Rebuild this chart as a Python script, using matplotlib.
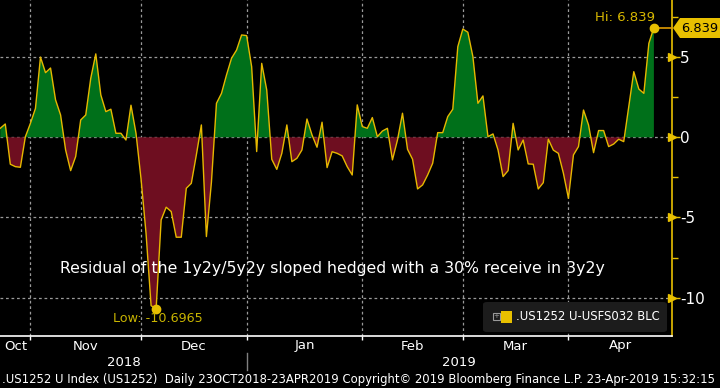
import numpy as np
import pandas as pd
import matplotlib
matplotlib.use("Agg")
import matplotlib.pyplot as plt
from matplotlib.ticker import MultipleLocator, FixedLocator, NullFormatter
from matplotlib.patches import FancyBboxPatch, Polygon, Rectangle

plt.rcParams['axes.unicode_minus'] = False
plt.rcParams['font.family'] = ['DejaVu Sans']

# ---------------- data ----------------
dates = pd.bdate_range("2018-10-23", "2019-04-23")
values = [
    0.56, 0.83, -1.68, -1.83, -1.87, 0.04, 0.87, 1.80, 5.00, 4.03,
    4.32, 2.33, 1.39, -0.79, -2.08, -1.20, 1.08, 1.39, 3.68, 5.20,
    2.64, 1.60, 1.75, 0.25, 0.25, -0.17, 2.00, 0.25, -2.60, -6.00,
    -10.50, -10.6965, -5.15, -4.36, -4.63, -6.23, -6.23, -3.18, -2.87, -1.10,
    0.77, -6.19, -2.80, 2.12, 2.74, 3.89, 4.93, 5.44, 6.38, 6.34,
    4.40, -0.89, 4.61, 2.95, -1.37, -2.00, -1.00, 0.77, -1.52, -1.31,
    -0.79, 1.14, 0.15, -0.62, 0.94, -1.89, -0.90, -1.00, -1.16, -1.83,
    -2.35, 2.02, 0.67, 0.56, 1.23, 0.04, 0.39, 0.56, -1.41, -0.17,
    1.50, -0.75, -1.37, -3.22, -2.97, -2.35, -1.62, 0.29, 0.29, 1.29,
    1.75, 5.65, 6.75, 6.55, 5.03, 2.12, 2.58, 0.04, 0.21, -0.79,
    -2.45, -2.08, 0.87, -0.79, -0.17, -1.66, -1.68, -3.22, -2.83, -0.12,
    -0.80, -1.00, -2.24, -3.80, -1.10, -0.58, 1.70, 0.77, -0.96, 0.42,
    0.42, -0.58, -0.42, -0.12, -0.27, 1.91, 4.09, 3.01, 2.74, 5.86,
    6.839,
]
yticks = [5, 0, -5, -10]
title_text = "Residual of the 1y2y/5y2y sloped hedged with a 30% receive in 3y2y"
legend_label = ".US1252 U-USFS032 BLC"
footer = (".US1252 U Index (US1252)  Daily 23OCT2018-23APR2019 Copyright\u00a9 2019 "
          "Bloomberg Finance L.P. 23-Apr-2019 15:32:15")

# ---------------- style ----------------
BG = "#000000"
GREEN = "#00701a"
RED = "#6e0e20"
LINE = "#e6b800"
YEL = "#e8c000"
GRID = "#9a9a9a"

y = np.array(values)
x = np.arange(len(y))
n = len(y)

W, H = 720, 388
fig = plt.figure(figsize=(W / 100, H / 100), dpi=100, facecolor=BG)
ax = fig.add_axes([0, (H - 336) / H, 672 / W, 336 / H], facecolor=BG)


def fx(px):
    return px / W


def fy(py):
    return (H - py) / H


XMAX = 133.6
ax.set_xlim(-0.05, XMAX)
ax.set_ylim(-12.39, 8.56)

ax.fill_between(x, y, 0, where=y >= 0, interpolate=True, color=GREEN, lw=0, zorder=2)
ax.fill_between(x, y, 0, where=y <= 0, interpolate=True, color=RED, lw=0, zorder=2)
ax.plot(x, y, color=LINE, lw=1.0, zorder=3)

# month boundaries (last business day of each month)
months = dates.to_period("M")
bounds = [i for i in range(n - 1) if months[i] != months[i + 1]]
for b in bounds:
    ax.axvline(b, color=GRID, lw=0.9, ls=(0, (2.2, 2.2)), zorder=1)
for yt in yticks:
    ax.axhline(yt, color=GRID, lw=0.9, ls=(0, (2.2, 2.2)), zorder=1)

# spines
for s in ["top", "left"]:
    ax.spines[s].set_visible(False)
ax.spines["right"].set_color(YEL)
ax.spines["right"].set_linewidth(1.2)
ax.spines["bottom"].set_color("white")
ax.spines["bottom"].set_linewidth(1.2)

# y ticks on right
ax.yaxis.tick_right()
ax.yaxis.set_major_locator(FixedLocator(yticks))
ax.yaxis.set_minor_locator(MultipleLocator(2.5))
ax.tick_params(axis="y", which="major", length=6, width=1, color=YEL,
               labelcolor="white", labelsize=11, pad=0)
ax.tick_params(axis="y", which="minor", length=4, width=1, color=YEL)
ax.yaxis.set_major_formatter(plt.FuncFormatter(lambda v, p: f"{v:g}"))
ytr = ax.get_yaxis_transform()
ax.plot([1.0] * len(yticks), yticks, ls="none", marker=">", ms=6, color=YEL,
        transform=ytr, clip_on=False, zorder=5)

# x ticks: month boundaries
ax.xaxis.set_major_locator(FixedLocator(bounds))
ax.xaxis.set_major_formatter(NullFormatter())
ax.tick_params(axis="x", which="major", length=3, width=1, color="white", direction="out")

xtr = ax.get_xaxis_transform()
edges = [0] + bounds + [XMAX]
mlabels = [d.strftime("%b") for d in [dates[0]] + [dates[b + 1] for b in bounds]]
for i, lab in enumerate(mlabels):
    cx = (edges[i] + edges[i + 1]) / 2
    ax.text(cx, -10 / 336, lab, transform=xtr, ha="center", va="center",
            color="white", fontsize=9.5, clip_on=False)

years = dates.year
ybound = [i for i in range(n - 1) if years[i] != years[i + 1]]
yedges = [0] + ybound + [XMAX]
ylabels = [str(years[0])] + [str(years[b + 1]) for b in ybound]
for i, lab in enumerate(ylabels):
    cx = (yedges[i] + yedges[i + 1]) / 2
    ax.text(cx, -26 / 336, lab, transform=xtr, ha="center", va="center",
            color="white", fontsize=9.5, clip_on=False)
for b in ybound:
    ax.plot([b, b], [-17 / 336, -34 / 336], color="#808080", lw=1, transform=xtr, clip_on=False)

# Hi / Low annotations
imax = int(np.argmax(y))
imin = int(np.argmin(y))
ax.plot([imax], [y[imax]], "o", color=YEL, ms=6, zorder=6, clip_on=False)
ax.plot([imin], [y[imin]], "o", color=YEL, ms=6, zorder=6, clip_on=False)
ax.plot([imax, XMAX], [y[imax], y[imax]], color="#e09a00", lw=1.2, zorder=5, clip_on=False)
ax.text(imax + 0.3, y[imax] + 0.6, f"Hi: {y[imax]:g}", color="#d8b800", fontsize=9.5,
        ha="right", va="center", zorder=6)
ax.text(imin - 8.5, y[imin] - 0.6, f"Low: {y[imin]:g}", color="#c8b400", fontsize=9.2,
        ha="left", va="center", zorder=6)

# last value flag
flag = Polygon([[fx(px), fy(py)] for px, py in [[673, 28], [680, 18], [720, 18], [720, 38], [680, 38]]],
               closed=True, transform=fig.transFigure, facecolor=YEL, edgecolor="none", zorder=9)
fig.patches.append(flag)
flag_t = fig.text(fx(699.5), fy(29), f"{y[-1]:g}", color="black", fontsize=10.5,
                  ha="center", va="center", zorder=10)

# annotation text
ax.text(332 / 672, 1 - 269 / 336, title_text, transform=ax.transAxes, color="white",
        fontsize=11.3, ha="center", va="center", zorder=7)

# legend box
lb = FancyBboxPatch((fx(483), fy(332)), 184 / W, 30 / H,
                    boxstyle="round,pad=0,rounding_size=0.006", transform=fig.transFigure,
                    facecolor="#1c1c1c", edgecolor="none", zorder=8)
fig.patches.append(lb)
fig.patches.append(Rectangle((fx(493), fy(320)), 7 / W, 7 / H, transform=fig.transFigure,
                             facecolor="none", edgecolor="#9a9a9a", lw=0.8, zorder=9))
fig.text(fx(496.5), fy(316.5), "+", color="#9a9a9a", fontsize=5, ha="center", va="center", zorder=10)
fig.patches.append(Rectangle((fx(501), fy(323)), 11 / W, 12 / H, transform=fig.transFigure,
                             facecolor=YEL, edgecolor="none", zorder=9))
leg_t = fig.text(fx(516), fy(317), legend_label, color="white", fontsize=10.5,
                 ha="left", va="center", zorder=10)

# footer
foot_t = fig.text(fx(2), fy(379), footer, color="white", fontsize=9.5, ha="left", va="center",
                  zorder=10)

# fit some texts to the widths they take in the reference
renderer = fig.canvas.get_renderer()
for t, target in [(foot_t, 713), (leg_t, 144), (flag_t, 37)]:
    w = t.get_window_extent(renderer).width
    t.set_fontsize(t.get_fontsize() * target / w)

fig.savefig("out.png", dpi=100, facecolor=BG)
